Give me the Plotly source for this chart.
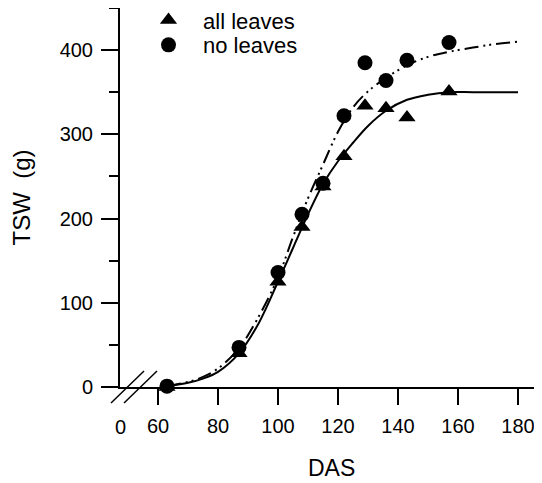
import plotly.graph_objects as go

# Sampling dates (days after sowing) and thousand-seed weight (g)
das_obs = [63, 87, 100, 108, 115, 122, 129, 136, 143, 157]
tsw_all_leaves = [0, 40, 125, 190, 238, 274, 334, 331, 320, 351]
tsw_no_leaves = [1, 47, 136, 205, 242, 322, 385, 364, 388, 409]

# Fitted curves
das_fit_all = [63, 70, 75, 80, 87, 93, 100, 105, 110, 115, 120, 125, 130, 136, 143, 150, 157, 165, 180]
fit_all = [1, 5, 10, 18, 40, 72, 125, 165, 205, 241, 268, 290, 310, 328, 341, 347, 350, 350, 350]
das_fit_no = [63, 70, 75, 80, 87, 93, 100, 105, 110, 115, 120, 125, 130, 136, 143, 150, 157, 165, 172, 180]
fit_no = [1, 6, 12, 22, 46, 80, 130, 178, 224, 264, 303, 332, 351, 367, 382, 392, 398, 403, 407, 410]

x_tick_vals = [60, 80, 100, 120, 140, 160, 180]
x_tick_text = ["60", "80", "100", "120", "140", "160", "180"]
x_zero_pos = 47.333  # position of the broken-axis "0" label
y_tick_vals = [0, 100, 200, 300, 400]
y_minor_vals = [50, 150, 250, 350, 450]

FONT = "Liberation Sans, Arial, Helvetica, sans-serif"

fig = go.Figure()
fig.add_trace(go.Scatter(x=das_fit_all, y=fit_all, mode="lines", line=dict(color="black", width=2, shape="spline"),
                         showlegend=False, hoverinfo="skip"))
fig.add_trace(go.Scatter(x=das_fit_no, y=fit_no, mode="lines",
                         line=dict(color="black", width=2, shape="spline", dash="14px,5px,2px,4px,2px,5px"),
                         showlegend=False, hoverinfo="skip"))
fig.add_trace(go.Scatter(x=das_obs, y=tsw_all_leaves, mode="markers", name="all leaves", legend="legend",
                         marker=dict(symbol="triangle-up", size=15, color="black"), cliponaxis=False))
fig.add_trace(go.Scatter(x=das_obs, y=tsw_no_leaves, mode="markers", name="no leaves", legend="legend2",
                         marker=dict(symbol="circle", size=15, color="black"), cliponaxis=False))

# Broken-axis marks
for x0, x1 in [(-0.0213, 0.0569), (0.0095, 0.0877)]:
    fig.add_shape(type="line", xref="paper", yref="paper", x0=x0, y0=-0.0422, x1=x1, y1=0.0422,
                  line=dict(color="black", width=1.5))

fig.add_annotation(x=x_zero_pos, y=0, xref="x", yref="paper", text="0", showarrow=False,
                   yanchor="top", yshift=-27, font=dict(size=20, color="black", family=FONT))
fig.add_annotation(x=0.5, y=0, xref="paper", yref="paper", text="DAS", showarrow=False,
                   yanchor="middle", yshift=-81, font=dict(size=23, color="black", family=FONT))

leg_common = dict(xanchor="left", yanchor="top", bgcolor="rgba(0,0,0,0)", font=dict(size=22), itemwidth=59)

fig.update_layout(
    width=534, height=475,
    margin=dict(l=112, r=0, t=0, b=96, autoexpand=False),
    paper_bgcolor="white", plot_bgcolor="white",
    font=dict(family=FONT, size=20, color="black"),
    legend=dict(x=0.0332, y=1.023, **leg_common),
    legend2=dict(x=0.0332, y=0.9577, **leg_common),
    xaxis=dict(range=[x_zero_pos, 188], tickvals=x_tick_vals, ticktext=x_tick_text, automargin=False,
               ticks="outside", ticklen=16, tickwidth=1.5, tickcolor="black", ticklabelstandoff=4,
               showline=True, linecolor="black", linewidth=2, showgrid=False, zeroline=False),
    yaxis=dict(range=[0, 450], tickvals=y_tick_vals, ticks="outside", ticklen=17, tickwidth=1.5,
               tickcolor="black", showline=True, linecolor="black", linewidth=2, showgrid=False,
               zeroline=False, automargin=False, ticklabelstandoff=4,
               minor=dict(tickvals=y_minor_vals, ticks="outside", ticklen=9, tickwidth=1.5, tickcolor="black"),
               title=dict(text="TSW  (g)", font=dict(size=24), standoff=22)),
)

fig.write_html("out.html")
